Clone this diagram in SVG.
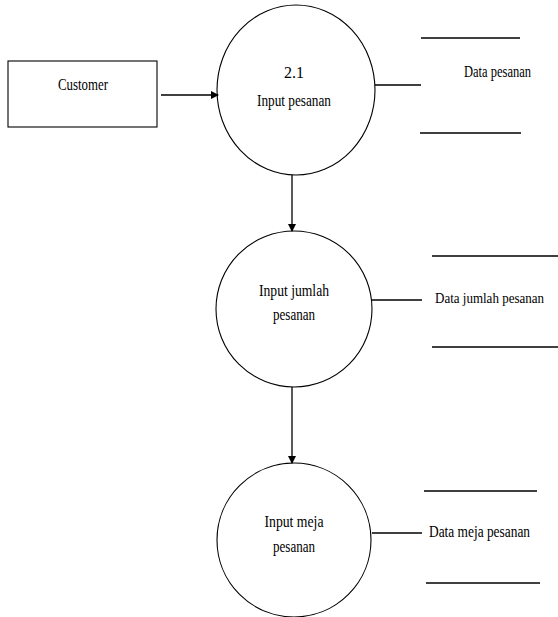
<svg xmlns="http://www.w3.org/2000/svg" width="558" height="617" viewBox="0 0 558 617">
<style>
.s{fill:none;stroke:#000;stroke-width:1.3}
.c{fill:#fff;stroke:#000;stroke-width:1.1}
.t{font-family:"Liberation Serif","Times New Roman",serif;font-size:16px;fill:#000}
.m{text-anchor:middle}
</style>
<defs>
<marker id="ah" markerWidth="8" markerHeight="8" refX="7" refY="4" orient="auto" markerUnits="userSpaceOnUse">
<path d="M0,0 L8,4 L0,8 z" fill="#000"/>
</marker>
</defs>
<rect width="558" height="617" fill="#fff"/>
<g id="customer">
<rect x="8" y="61" width="149" height="66" class="c"/>
<text x="83" y="90" class="t m" textLength="50" lengthAdjust="spacingAndGlyphs">Customer</text>
</g>
<g id="p1">
<ellipse cx="296" cy="90" rx="79" ry="85" class="c"/>
<text x="294" y="78" class="t m">2.1</text>
<text x="294" y="106" class="t m" textLength="74" lengthAdjust="spacingAndGlyphs">Input pesanan</text>
</g>
<g id="p2">
<circle cx="294" cy="309" r="78" class="c"/>
<text x="294" y="296" class="t m" textLength="70" lengthAdjust="spacingAndGlyphs">Input jumlah</text>
<text x="294" y="320" class="t m" textLength="42" lengthAdjust="spacingAndGlyphs">pesanan</text>
</g>
<g id="p3">
<circle cx="294" cy="540" r="77" class="c"/>
<text x="294" y="527" class="t m" textLength="59" lengthAdjust="spacingAndGlyphs">Input meja</text>
<text x="294" y="552" class="t m" textLength="42" lengthAdjust="spacingAndGlyphs">pesanan</text>
</g>
<g id="ds1">
<line x1="421" y1="38" x2="520" y2="38" class="s"/>
<line x1="420" y1="133" x2="521" y2="133" class="s"/>
<text x="464" y="77" class="t" textLength="67" lengthAdjust="spacingAndGlyphs">Data pesanan</text>
</g>
<g id="ds2">
<line x1="432" y1="256" x2="558" y2="256" class="s"/>
<line x1="432" y1="347" x2="558" y2="347" class="s"/>
<text x="435" y="303" class="t" style="font-size:14.5px" textLength="109" lengthAdjust="spacingAndGlyphs">Data jumlah pesanan</text>
</g>
<g id="ds3">
<line x1="424" y1="491" x2="537" y2="491" class="s"/>
<line x1="426" y1="583" x2="540" y2="583" class="s"/>
<text x="429" y="537" class="t" textLength="101" lengthAdjust="spacingAndGlyphs">Data meja pesanan</text>
</g>
<g id="connectors">
<line x1="161" y1="95" x2="218" y2="95" class="s" marker-end="url(#ah)"/>
<line x1="375" y1="85" x2="421" y2="85" class="s"/>
<line x1="292" y1="175" x2="292" y2="231" class="s" marker-end="url(#ah)"/>
<line x1="372" y1="300" x2="422" y2="300" class="s"/>
<line x1="292" y1="387" x2="292" y2="463" class="s" marker-end="url(#ah)"/>
<line x1="372" y1="533" x2="422" y2="533" class="s"/>
</g>
</svg>
